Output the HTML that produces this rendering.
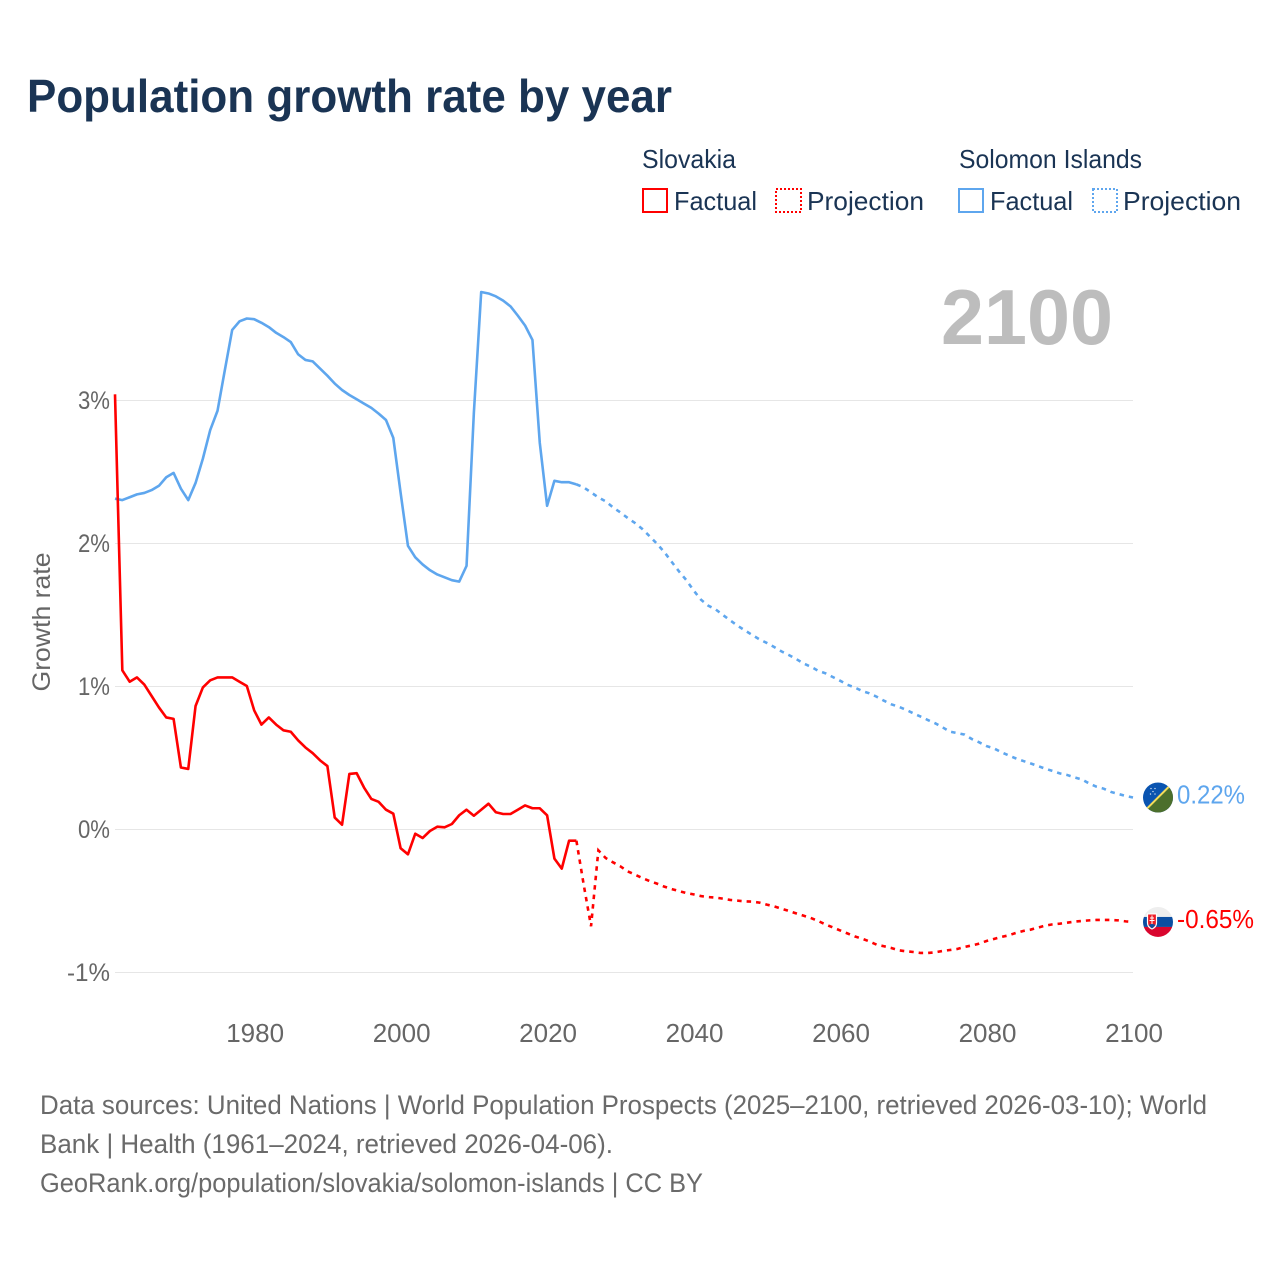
<!DOCTYPE html>
<html lang="en">
<head>
<meta charset="utf-8">
<title>Population growth rate by year</title>
<style>
  html, body { margin: 0; padding: 0; background: #ffffff; }
  svg { display: block; font-family: "Liberation Sans", sans-serif; }
</style>
</head>
<body>
<svg id="chart" xmlns="http://www.w3.org/2000/svg" width="1280" height="1280" viewBox="0 0 1280 1280">
  <rect x="0" y="0" width="1280" height="1280" fill="#ffffff"/>
  <text x="27" y="112" font-size="46" font-weight="700" fill="#1a3454" textLength="645" lengthAdjust="spacingAndGlyphs">Population growth rate by year</text>

  <g font-size="26" fill="#1a3454">
    <text x="642" y="168" textLength="94" lengthAdjust="spacingAndGlyphs">Slovakia</text>
    <rect x="643" y="189" width="24" height="23" fill="none" stroke="#ff0000" stroke-width="2"/>
    <text x="674" y="210" textLength="83" lengthAdjust="spacingAndGlyphs">Factual</text>
    <rect x="776" y="189" width="25" height="23" fill="none" stroke="#ff0000" stroke-width="2" stroke-dasharray="2 2"/>
    <text x="807" y="210" textLength="117" lengthAdjust="spacingAndGlyphs">Projection</text>
    <text x="959" y="168" textLength="183" lengthAdjust="spacingAndGlyphs">Solomon Islands</text>
    <rect x="959" y="189" width="24" height="23" fill="none" stroke="#5ea6ee" stroke-width="2"/>
    <text x="990" y="210" textLength="83" lengthAdjust="spacingAndGlyphs">Factual</text>
    <rect x="1093" y="189" width="24" height="23" fill="none" stroke="#5ea6ee" stroke-width="2" stroke-dasharray="2 2"/>
    <text x="1123" y="210" textLength="118" lengthAdjust="spacingAndGlyphs">Projection</text>
  </g>

  <text x="941" y="344" font-size="78" font-weight="700" fill="#bdbdbd" textLength="172" lengthAdjust="spacingAndGlyphs">2100</text>

  <g id="grid"></g>
  <g id="y-ticks"></g>
  <g id="x-ticks"></g>
  <text transform="translate(50 622) rotate(-90)" text-anchor="middle" font-size="25" fill="#666666" textLength="139" lengthAdjust="spacingAndGlyphs">Growth rate</text>

  <g id="series"></g>

  <defs>
    <clipPath id="flag-clip"><circle cx="0" cy="0" r="15"/></clipPath>
  </defs>

  <g id="flag-solomon">
    <g clip-path="url(#flag-clip)">
      <rect x="-15" y="-15" width="30" height="30" fill="#0a54b0"/>
      <polygon points="15,-15 15,15 -15,15" fill="#4c6f2c"/>
      <line x1="-15" y1="15" x2="15" y2="-15" stroke="#f5dc5a" stroke-width="2"/>
      <circle cx="-7" cy="-9" r="0.7" fill="#dfe9f7"/>
      <circle cx="-3" cy="-9" r="0.7" fill="#dfe9f7"/>
      <circle cx="-5" cy="-6" r="0.7" fill="#dfe9f7"/>
      <circle cx="-7.5" cy="-3.5" r="0.7" fill="#dfe9f7"/>
      <circle cx="-3" cy="-3.5" r="0.7" fill="#dfe9f7"/>
    </g>
  </g>

  <g id="flag-slovakia">
    <g clip-path="url(#flag-clip)">
      <rect x="-15" y="-15" width="30" height="10" fill="#eeeeee"/>
      <rect x="-15" y="-5" width="30" height="10" fill="#0b4ea2"/>
      <rect x="-15" y="5" width="30" height="10" fill="#d9062e"/>
      <path d="M-10.5,-8 H-1.5 V1 Q-1.5,5 -6,7 Q-10.5,5 -10.5,1 Z" fill="#ee1c25" stroke="#ffffff" stroke-width="1.2"/>
      <path d="M-6,-6.5 V2.5 M-8,-4 H-4 M-8.5,-1.5 H-3.5" stroke="#ffffff" stroke-width="1" fill="none"/>
      <path d="M-9.5,3 Q-6,1 -2.5,3 L-6,6.5 Z" fill="#0b4ea2"/>
    </g>
  </g>

  <text id="value-solomon" x="1177" font-size="26" fill="#5ea6ee" textLength="68" lengthAdjust="spacingAndGlyphs"></text>
  <text id="value-slovakia" x="1177" font-size="26" fill="#ff0000" textLength="77" lengthAdjust="spacingAndGlyphs"></text>

  <g font-size="27" fill="#6a6a6a">
    <text x="40" y="1114" textLength="1167" lengthAdjust="spacingAndGlyphs">Data sources: United Nations | World Population Prospects (2025–2100, retrieved 2026-03-10); World</text>
    <text x="40" y="1153" textLength="573" lengthAdjust="spacingAndGlyphs">Bank | Health (1961–2024, retrieved 2026-04-06).</text>
    <text x="40" y="1192" textLength="663" lengthAdjust="spacingAndGlyphs">GeoRank.org/population/slovakia/solomon-islands | CC BY</text>
  </g>
</svg>

<script>
const years = [
  1961,1962,1963,1964,1965,1966,1967,1968,1969,
  1970,1971,1972,1973,1974,1975,1976,1977,1978,1979,
  1980,1981,1982,1983,1984,1985,1986,1987,1988,1989,
  1990,1991,1992,1993,1994,1995,1996,1997,1998,1999,
  2000,2001,2002,2003,2004,2005,2006,2007,2008,2009,
  2010,2011,2012,2013,2014,2015,2016,2017,2018,2019,
  2020,2021,2022,2023,2024,2025,2026,2027,2028,2029,
  2030,2031,2032,2033,2034,2035,2036,2037,2038,2039,
  2040,2041,2042,2043,2044,2045,2046,2047,2048,2049,
  2050,2051,2052,2053,2054,2055,2056,2057,2058,2059,
  2060,2061,2062,2063,2064,2065,2066,2067,2068,2069,
  2070,2071,2072,2073,2074,2075,2076,2077,2078,2079,
  2080,2081,2082,2083,2084,2085,2086,2087,2088,2089,
  2090,2091,2092,2093,2094,2095,2096,2097,2098,2099,
  2100
];
const slovakiaValues = [
  3.04,1.11,1.03,1.06,1.01,0.93,0.85,0.78,0.77,
  0.43,0.42,0.86,0.99,1.04,1.06,1.06,1.06,1.03,1.0,
  0.83,0.73,0.78,0.73,0.69,0.68,0.62,0.57,0.53,0.48,
  0.44,0.08,0.03,0.385,0.39,0.29,0.21,0.19,0.135,0.107,
  -0.135,-0.177,-0.033,-0.063,-0.014,0.016,0.012,0.035,0.096,0.135,
  0.093,0.135,0.177,0.117,0.105,0.105,0.135,0.165,0.145,0.145,
  0.096,-0.207,-0.277,-0.082,-0.082,-0.39,-0.68,-0.149,-0.203,-0.233,
  -0.261,-0.296,-0.319,-0.343,-0.364,-0.382,-0.403,-0.42,-0.434,-0.448,
  -0.457,-0.469,-0.476,-0.48,-0.487,-0.496,-0.501,-0.506,-0.508,-0.515,
  -0.529,-0.541,-0.557,-0.573,-0.59,-0.606,-0.622,-0.643,-0.667,-0.688,
  -0.709,-0.73,-0.751,-0.767,-0.786,-0.809,-0.82,-0.832,-0.848,-0.855,
  -0.86,-0.867,-0.867,-0.862,-0.853,-0.846,-0.839,-0.825,-0.814,-0.802,
  -0.783,-0.769,-0.755,-0.744,-0.727,-0.713,-0.704,-0.69,-0.676,-0.667,
  -0.662,-0.655,-0.648,-0.643,-0.639,-0.636,-0.636,-0.636,-0.639,-0.646,
  -0.65
];
const solomonValues = [
  2.31,2.30,2.32,2.34,2.35,2.37,2.40,2.46,2.49,
  2.38,2.30,2.42,2.59,2.79,2.925,3.21,3.49,3.55,3.57,
  3.565,3.54,3.51,3.47,3.44,3.405,3.32,3.28,3.27,3.22,
  3.17,3.115,3.07,3.035,3.005,2.975,2.945,2.905,2.86,2.735,
  2.35,1.98,1.90,1.85,1.81,1.78,1.76,1.74,1.73,1.84,
  2.91,3.755,3.745,3.725,3.695,3.655,3.59,3.52,3.42,2.70,
  2.26,2.435,2.425,2.425,2.41,2.389,2.354,2.319,2.291,2.249,
  2.214,2.175,2.14,2.098,2.047,1.995,1.937,1.869,1.802,1.741,
  1.669,1.604,1.562,1.536,1.497,1.459,1.422,1.389,1.357,1.326,
  1.301,1.273,1.242,1.217,1.189,1.158,1.135,1.107,1.089,1.063,
  1.037,1.009,0.99,0.965,0.949,0.925,0.897,0.872,0.855,0.834,
  0.809,0.786,0.762,0.739,0.711,0.681,0.671,0.66,0.629,0.606,
  0.58,0.564,0.538,0.515,0.494,0.476,0.459,0.441,0.422,0.406,
  0.389,0.378,0.361,0.347,0.319,0.296,0.282,0.259,0.245,0.231,
  0.22
];
const lastFactualYear = 2024;
const yTickValues = [3, 2, 1, 0, -1];
const yTickLabels = ['3%', '2%', '1%', '0%', '-1%'];
const xTickValues = [1980, 2000, 2020, 2040, 2060, 2080, 2100];
const xTickLabels = ['1980', '2000', '2020', '2040', '2060', '2080', '2100'];

const SVG_NS = 'http://www.w3.org/2000/svg';
const PLOT_LEFT = 115;
const PLOT_RIGHT = 1133;
const ZERO_Y = 829;
const PX_PER_PERCENT = 143;
const FIRST_YEAR = 1961;
const LAST_YEAR = 2100;

function xScale(year) {
  return PLOT_LEFT + (year - FIRST_YEAR) * (PLOT_RIGHT - PLOT_LEFT) / (LAST_YEAR - FIRST_YEAR);
}
function yScale(value) {
  return ZERO_Y - value * PX_PER_PERCENT;
}
function make(tag, parent) {
  const el = document.createElementNS(SVG_NS, tag);
  parent.appendChild(el);
  return el;
}
function buildPath(values, keep) {
  let d = '';
  years.forEach(function (year, i) {
    if (!keep(year)) return;
    d += (d ? 'L' : 'M') + xScale(year).toFixed(2) + ',' + yScale(values[i]).toFixed(2);
  });
  return d;
}

const gridGroup = document.getElementById('grid');
const yTickGroup = document.getElementById('y-ticks');
yTickValues.forEach(function (value, i) {
  const line = make('line', gridGroup);
  
  
  line.setAttribute('x1', PLOT_LEFT);
  line.setAttribute('x2', PLOT_RIGHT);
  line.setAttribute('y1', yScale(value) + 0.5);
  line.setAttribute('y2', yScale(value) + 0.5);
  line.setAttribute('stroke', '#e6e6e6');
  line.setAttribute('stroke-width', '1');

  const label = make('text', yTickGroup);
  
  
  label.setAttribute('x', 110);
  label.setAttribute('y', yScale(value) + 9);
  label.setAttribute('text-anchor', 'end');
  label.setAttribute('font-size', '25');
  label.setAttribute('fill', '#666666');
  label.setAttribute('textLength', yTickLabels[i].length * 11 + 10);
  label.setAttribute('lengthAdjust', 'spacingAndGlyphs');
  label.textContent = yTickLabels[i];
});

const xTickGroup = document.getElementById('x-ticks');
xTickValues.forEach(function (year, i) {
  const label = make('text', xTickGroup);
  
  
  label.setAttribute('x', xScale(year) + 1);
  label.setAttribute('y', 1042);
  label.setAttribute('text-anchor', 'middle');
  label.setAttribute('font-size', '26');
  label.setAttribute('fill', '#666666');
  label.textContent = xTickLabels[i];
});

const seriesGroup = document.getElementById('series');
function drawSeries(values, color, nameFactual, nameProjection) {
  const factual = make('path', seriesGroup);
  
  
  factual.setAttribute('d', buildPath(values, function (y) { return y <= lastFactualYear; }));
  factual.setAttribute('fill', 'none');
  factual.setAttribute('stroke', color);
  factual.setAttribute('stroke-width', '2.6');
  factual.setAttribute('stroke-linejoin', 'round');

  const projection = make('path', seriesGroup);
  
  
  projection.setAttribute('d', buildPath(values, function (y) { return y >= lastFactualYear; }));
  projection.setAttribute('fill', 'none');
  projection.setAttribute('stroke', color);
  projection.setAttribute('stroke-width', '2.6');
  projection.setAttribute('stroke-dasharray', '4.5 5');
}
drawSeries(solomonValues, '#5ea6ee', 'solomon-factual-line', 'solomon-projection-line');
drawSeries(slovakiaValues, '#ff0000', 'slovakia-factual-line', 'slovakia-projection-line');

function placeEnd(values, flagId, labelId) {
  const last = values[values.length - 1];
  const y = yScale(last);
  document.getElementById(flagId).setAttribute('transform', 'translate(' + (PLOT_RIGHT + 25) + ' ' + y + ')');
  const label = document.getElementById(labelId);
  label.setAttribute('y', y + 6);
  label.textContent = last.toFixed(2) + '%';
}
placeEnd(solomonValues, 'flag-solomon', 'value-solomon');
placeEnd(slovakiaValues, 'flag-slovakia', 'value-slovakia');
</script>
</body>
</html>
